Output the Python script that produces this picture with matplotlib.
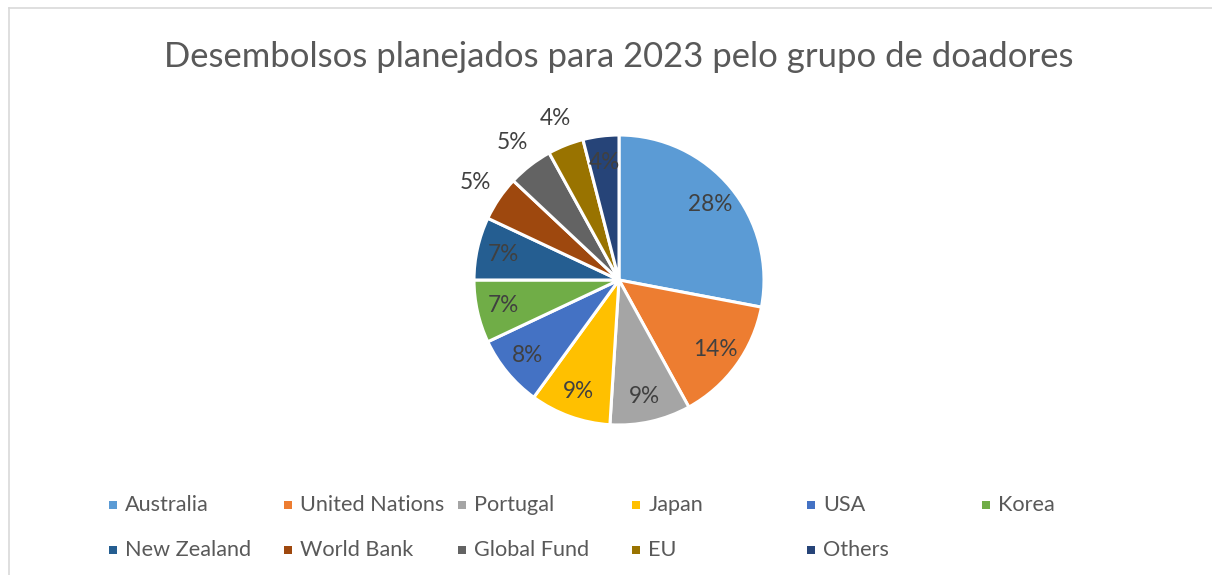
import matplotlib.pyplot as plt
from matplotlib.lines import Line2D
from matplotlib.patches import Rectangle
import numpy as np

# Donor shares (%) for 2023 planned disbursements
donors = ['Australia', 'United Nations', 'Portugal', 'Japan', 'USA', 'Korea',
          'New Zealand', 'World Bank', 'Global Fund', 'EU', 'Others']
shares = [28, 14, 9, 9, 8, 7, 7, 5, 5, 4, 4]
colors = ['#5B9BD5', '#ED7D31', '#A5A5A5', '#FFC000', '#4472C4', '#70AD47',
          '#255E91', '#9E480E', '#636363', '#997300', '#264478']
# small slices get their label outside the pie (Excel best fit)
outside = [False, False, False, False, False, False,
           False, True, True, True, False]

plt.rcParams['font.family'] = ['Lato', 'DejaVu Sans']

W, H = 1212, 575
fig = plt.figure(figsize=(W / 100, H / 100), dpi=100)

# pie centre and radius in pixels
cx, cy, R = 619, 280, 145
ax = fig.add_axes([0, 0, 1, 1])
wedges, _ = ax.pie(shares, colors=colors, startangle=90, counterclock=False,
                   radius=1, wedgeprops=dict(edgecolor='white', linewidth=2.2))
ax.set_xlim(-cx / R, (W - cx) / R)
ax.set_ylim(-(H - cy) / R, cy / R)
ax.set_aspect('auto')
ax.axis('off')

total = sum(shares)
for w, s, out in zip(wedges, shares, outside):
    mid = np.deg2rad((w.theta1 + w.theta2) / 2)
    r = 1.2 if out else 0.82
    ax.text(r * np.cos(mid), r * np.sin(mid), f'{round(100 * s / total)}%',
            ha='center', va='center', fontsize=16.3, color='#404040')

fig.text(cx / W, 1 - 57 / H, 'Desembolsos planejados para 2023 pelo grupo de doadores',
         ha='center', va='center', fontsize=24.9, color='#595959')

# legend: 6 fixed-width columns, row-major like Excel
col_x0, col_dx = 113, 174.5
row_y0, row_dy = 505, 45
for i, (name, c) in enumerate(zip(donors, colors)):
    col, row = i % 6, i // 6
    x = col_x0 + col * col_dx
    y = row_y0 + row * row_dy
    fig.add_artist(Rectangle(((x - 4) / W, 1 - (y + 4) / H), 8 / W, 8 / H,
                             transform=fig.transFigure, color=c, lw=0))
    fig.text((x + 12) / W, 1 - y / H, name, ha='left', va='center',
             fontsize=15.6, color='#595959')

# chart frame
fig.add_artist(Line2D([9 / W, 1], [1 - 8 / H, 1 - 8 / H], transform=fig.transFigure,
                      color='#d9d9d9', lw=1.2))
fig.add_artist(Line2D([9 / W, 9 / W], [0, 1 - 8 / H], transform=fig.transFigure,
                      color='#d9d9d9', lw=1.2))

fig.savefig('out.png', dpi=100)
